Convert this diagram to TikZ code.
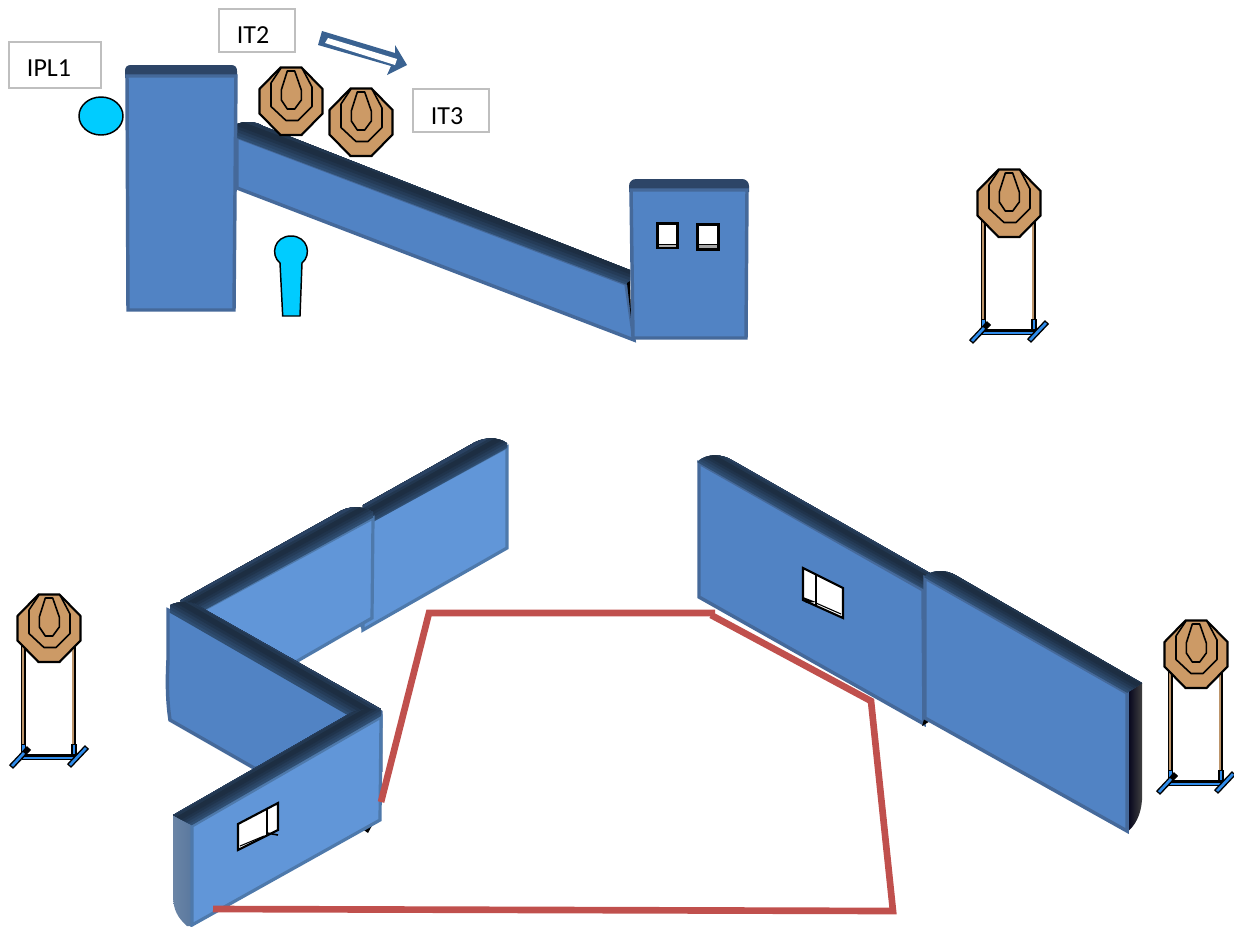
\documentclass[tikz,border=0pt]{standalone}
\usepackage{fontspec}
\setmainfont{Carlito}
\usetikzlibrary{calc}
\definecolor{wallA}{HTML}{5183C4}
\definecolor{wallB}{HTML}{6196D8}
\definecolor{edgeA}{HTML}{45699A}
\definecolor{edgeB}{HTML}{4E79AB}
\definecolor{capdark}{HTML}{2D4567}
\definecolor{g0}{HTML}{2F4E72}
\definecolor{g1}{HTML}{2A4565}
\definecolor{g2}{HTML}{253C58}
\definecolor{g3}{HTML}{20344C}
\definecolor{g4}{HTML}{1D2E43}
\definecolor{g5}{HTML}{1D2E42}
\definecolor{g6}{HTML}{223750}
\definecolor{g7}{HTML}{2A4262}
\definecolor{tan}{HTML}{CC9A66}
\definecolor{redline}{HTML}{C0504D}
\definecolor{cyanblue}{HTML}{00CCFF}
\definecolor{standblue}{HTML}{2F8CEB}
\definecolor{arrowblue}{HTML}{3A6291}
\definecolor{boxgray}{HTML}{BFBFBF}
\definecolor{sideL}{HTML}{6B85A6}
\definecolor{sideR}{HTML}{58779E}
\tikzset{
  x=.75pt,y=-.75pt,
  wallfaceA/.style={fill=wallA,draw=edgeA,line width=2.6pt,line join=miter},
  wallfaceB/.style={fill=wallB,draw=edgeB,line width=2.4pt,line join=miter},
  labelbox/.style={draw=boxgray,fill=white,line width=1.2pt,minimum width=0pt,inner sep=0pt},
  labeltext/.style={font=\fontsize{19.5}{22}\selectfont,text=black,inner sep=0pt},
  redseg/.style={draw=redline,line width=5pt},
  ink/.style={draw=black,line width=1.6pt,line join=miter},
  thinink/.style={draw=black,line width=1.2pt,line join=round},
  cyanshape/.style={fill=cyanblue,draw=black,line width=1.1pt},
  window/.style={fill=white,draw=black,line width=1.6pt,line join=miter},
}
% #1 clip path, (#2,#3)-(#4,#5) lower edge of the strip, (#6,#7) vector across it
\newcommand{\bevelstrip}[7]{%
  \begin{scope}
    \clip #1;
    \foreach \i in {0,...,7}{%
      \pgfmathsetmacro{\tt}{\i/8}%
      \fill[g\i] ({#2+\tt*#6},{#3+\tt*#7}) -- ({#4+\tt*#6},{#5+\tt*#7}) -- ({#4+3*#6},{#5+3*#7}) -- ({#2+3*#6},{#3+3*#7}) -- cycle;
    }
  \end{scope}}
\newcommand{\octagon}[2]{%
  \begin{scope}[shift={(#1,#2)}]
    \fill[tan,ink] (-10.5,-33.5) -- (10.5,-33.5) -- (31.5,-12) -- (31.5,12.5) -- (10.5,34) -- (-10.5,34) -- (-31.5,12.5) -- (-31.5,-12) -- cycle;
    \draw[thinink] (-10,-33) -- (-20,-18) -- (-20,5.5) -- (-5,19.5) -- (7,19.5) -- (21,5.5) -- (21,-14) -- (11,-33);
    \draw[thinink] (-3.7,-30) -- (3.7,-30) -- (10.3,-11) -- (10.3,-1) -- (3.7,8) -- (-3.7,8) -- (-9.7,-1) -- (-9.7,-11) -- cycle;
  \end{scope}}
\newcommand{\stand}[2]{%
  \begin{scope}[shift={(#1,#2)}]
    \foreach \s in {-25.5,25}{%
      \draw[black,line width=3.2pt] (\s,10) -- (\s,120);
      \draw[tan!80!gray,line width=1.8pt] (\s-.8,10) -- (\s-.8,120);
      \draw[black,line width=3.8pt] (\s,116) -- (\s,130);
      \draw[standblue,line width=2pt] (\s,117) -- (\s,129);
    }
    \draw[black,line width=4.2pt] (-27,129) -- (27,129);
    \draw[standblue,line width=1.8pt] (-26,130) -- (26,130);
    \draw[black,line width=4.2pt] (-38,139) -- (-20,120);
    \draw[standblue,line width=2pt] (-37,138) -- (-25,125);
    \draw[black,line width=4.2pt] (20,138) -- (38,119);
    \draw[standblue,line width=2pt] (21,137) -- (37,120);
  \end{scope}
  \octagon{#1}{#2}}
\begin{document}
\begin{tikzpicture}
\useasboundingbox (0,0) rectangle (1234,926);

% ---- upper slanted wall
\draw[wallfaceA] (237,137) -- (626,284) -- (634,340) -- (237,188) -- cycle;
\bevelstrip{(237,138) -- (237,124) .. controls (241,122) and (254,120) .. (263,126) -- (630,270) -- (630,286) -- cycle}{220}{132}{660}{298}{8}{-22}
\fill[black] (627,283) -- (630,281) -- (631,318) -- cycle;

% ---- upper left block
\fill[capdark] (125,78) -- (125,71) .. controls (125,67) and (127,65) .. (131,65) -- (231,65) .. controls (235,65) and (237,67) .. (237,71) -- (237,78) -- cycle;
\draw[wallfaceA] (127,76) -- (236,76) -- (234,310) -- (128,310) -- cycle;

% ---- upper right block
\fill[capdark] (629,192) -- (629,186) .. controls (629,182) and (632,179) .. (636,179) -- (742,179) .. controls (746,179) and (749,182) .. (749,186) -- (749,192) -- cycle;
\draw[wallfaceA] (631,190) -- (747,190) -- (746,338) -- (633,338) -- cycle;
\fill[black] (656,222) rectangle (679,249);
\fill[white] (659,225) rectangle (676,244);
\fill[gray!60] (659,245) rectangle (676,247);
\fill[black] (696,223) rectangle (720,251);
\fill[white] (699,226) rectangle (717,244);
\fill[gray!70] (699,245) rectangle (717,248);

% ---- labels
\node[labelbox,minimum width=69pt,minimum height=34.5pt] (ipl1box) at (55,65) {};
\node[labeltext] (ipl1) at (49,68) {IPL1};
\node[labelbox,minimum width=57pt,minimum height=32pt] (it2box) at (257,30.5) {};
\node[labeltext] (it2) at (253,35) {IT2};
\node[labelbox,minimum width=57pt,minimum height=32pt] (it3box) at (451,110.5) {};
\node[labeltext] (it3) at (447,116) {IT3};

% ---- hollow arrow
\fill[arrowblue] (322,31) -- (395,53) -- (395,45) -- (407,65) -- (387,75) -- (391,66) -- (318,45) -- cycle;
\fill[white] (328,38) -- (397,59) -- (395,65) -- (325,43) -- cycle;

% ---- cyan markers
\draw[cyanshape] (101,116) ellipse (22 and 19);
\draw[cyanshape] (280,263) .. controls (270,255) and (274,236) .. (291,236) .. controls (308,236) and (312,255) .. (302,263) -- (300,316) -- (282.7,316) -- cycle;

% ---- targets
\octagon{291}{101}
\octagon{361}{122}
\stand{1009}{203}
\stand{49}{628}
\stand{1196}{654}

% ---- far back-left wall
\fill[edgeB] (360,626) -- (363,631) -- (368,628) -- (368,620) -- cycle;
\draw[wallfaceB] (507,447) -- (507,548) -- (363,630) -- (362,526) -- cycle;
\bevelstrip{(363,505) -- (470,445) .. controls (482,437) and (497,436) .. (507,443) -- (507,448) -- (362,528) -- cycle}{350}{536}{520}{442}{-10}{-18}

% ---- back-left wall
\draw[wallfaceB] (203,610) -- (373,518) -- (372,618) -- (280,671) -- (190,640) -- cycle;
\bevelstrip{(170,606) -- (337,513) .. controls (347,506) and (362,505) .. (373,512) -- (373,519) -- (203,611) -- (170,620) -- cycle}{190}{618}{385}{511}{-10}{-18}

% ---- left facing wall
\draw[wallfaceA] (168,610) -- (381,712) -- (381,770) -- (254,768) -- (170,720) .. controls (167,700) and (167,680) .. (168,660) -- cycle;
\bevelstrip{(170,605) .. controls (178,601) and (190,601) .. (197,605) -- (381,709) -- (381,716) -- (350,717) -- (170,613) -- cycle}{160}{607}{370}{728}{11}{-20}

% ---- front wall
\fill[black] (361,828) -- (370,822) -- (374,822) -- (368,833) -- cycle;
\shade[left color=sideL,right color=sideR] (173,815) -- (193,825) -- (193,926) -- (187,926) .. controls (178,918) and (173,910) .. (173,895) -- cycle;
\draw[wallfaceB] (192,826) -- (381,717) -- (380,820) -- (192,925) -- cycle;
\bevelstrip{(173,815) -- (347,715) .. controls (357,709) and (370,708) .. (381,710) -- (381,717) -- (193,826) -- cycle}{180}{832}{395}{708}{-9}{-18}
\draw[window] (238,824) -- (278,803) -- (278,830) -- (238,850) -- cycle;
\draw[black,line width=1.2pt] (267,809) -- (267,835);
\draw[black,line width=.8pt] (240,846) -- (264,836);
\draw[black,line width=1.2pt] (267,833) -- (278,835);

% ---- right middle wall
\draw[wallfaceA] (699,463) -- (923,590) -- (924,724) -- (699,597) -- cycle;
\bevelstrip{(697,462) .. controls (703,456) and (716,452) .. (730,459) -- (930,573) -- (925,590) -- (700,465) -- cycle}{690}{458}{940}{600}{9}{-18}
\fill[black] (922,726) -- (932,720) -- (925,716) -- cycle;
\draw[window] (803,568) -- (843,588) -- (843,618) -- (803,600) -- cycle;
\draw[black,line width=1.2pt] (816,575) -- (816,606);
\draw[black,line width=.8pt] (816,603) -- (841,614);
\fill[black] (803,597) -- (816,602) -- (806,603) -- cycle;

% ---- right end wall
\shade[left color=black!90!blue,right color=black!75] (1127,692) -- (1142,683) -- (1142,800) .. controls (1141,815) and (1135,826) .. (1127,832) -- cycle;
\draw[wallfaceA] (925,578) -- (1127,693) -- (1127,831) -- (925,718) -- cycle;
\bevelstrip{(924,577) .. controls (928,571) and (945,568) .. (957,576) -- (1142,683) -- (1127,693) -- (926,581) -- cycle}{915}{572}{1145}{703}{9}{-18}

% ---- red outline
\coordinate (r1) at (213,909);
\coordinate (r2) at (893,911);
\coordinate (r3) at (871,701);
\coordinate (r4) at (711,615);
\coordinate (r5) at (715,613);
\coordinate (r6) at (429,613);
\coordinate (r7) at (381,802);
\draw[redseg] (r1) -- (r2) -- (r3) -- (r4);
\draw[redseg] (r5) -- (r6) -- (r7);
\end{tikzpicture}
\end{document}
